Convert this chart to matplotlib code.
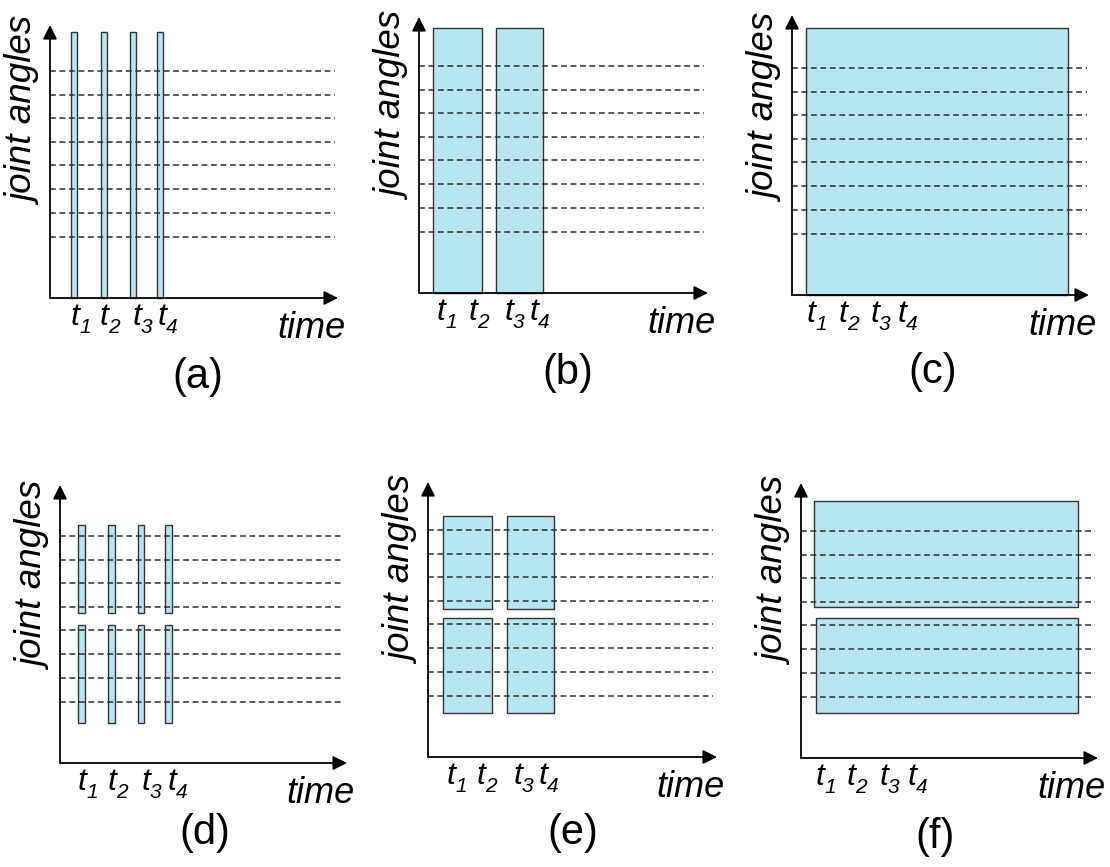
import matplotlib
matplotlib.use('Agg')
import matplotlib.pyplot as plt

plt.rcParams['font.family'] = ['Liberation Sans', 'DejaVu Sans']

# 关节角度的虚线层级（相对时间轴的高度）
joint_levels = [61, 85, 109, 133, 156, 180, 203, 227]

panel_names = ['(a)', '(b)', '(c)', '(d)', '(e)', '(f)']
# 每个小图原点在页面中的位置
panel_origin = [(50, 298), (419, 293), (792, 295), (60, 763), (428, 757), (801, 758)]
axis_len_x = [288, 289, 297, 287, 289, 297]
axis_len_y = [273, 276, 280, 278, 275, 275]
dash_end = [285, 285, 295, 283, 285, 294]

# 窗口: (t_start, t_end, joint_low, joint_high)
windows = [
    [(21, 27, 0, 266), (51, 57, 0, 266), (80, 86, 0, 266), (107, 113, 0, 266)],
    [(14, 63, 0, 265), (77, 124, 0, 265)],
    [(14, 276, 0, 267)],
    [(18, 25, 150, 238), (48, 55, 150, 238), (78, 84, 150, 238), (105, 112, 150, 238),
     (18, 25, 40, 138), (48, 55, 40, 138), (78, 84, 40, 138), (105, 112, 40, 138)],
    [(15, 64, 148, 241), (79, 126, 148, 241), (15, 64, 44, 139), (79, 126, 44, 139)],
    [(13, 277, 151, 257), (15, 277, 45, 140)],
]

t_subs = ['1', '2', '3', '4']
t_label_x = [
    [21, 50, 83, 108],
    [18, 50, 86, 111],
    [15, 47, 79, 106],
    [18, 48, 82, 108],
    [19, 49, 86, 111],
    [15, 46, 79, 107],
]
caption_pos = [(148, -79), (149, -80), (141, -77), (145, -70), (145, -76), (134, -79)]

W, H = 1110, 867
fig = plt.figure(figsize=(W / 100, H / 100), dpi=100)

for i in range(6):
    ox, oy = panel_origin[i]
    x0, x1, y0, y1 = -45, 315, -95, 285
    ax = fig.add_axes([(ox + x0) / W, (H - (oy - y0)) / H, (x1 - x0) / W, (y1 - y0) / H])
    ax.set_xlim(x0, x1)
    ax.set_ylim(y0, y1)
    ax.axis('off')

    # 窗口矩形
    for (ta, tb, ja, jb) in windows[i]:
        ax.bar(ta, jb - ja, width=tb - ta, bottom=ja, align='edge',
               color='#b8e6f0', edgecolor='#333333', linewidth=1.0, zorder=1)

    # 虚线
    for lv in joint_levels:
        ax.plot([0, dash_end[i]], [lv, lv], color='#2e2e2e', lw=1.1,
                dashes=(3.8, 2.4), zorder=2)

    # 坐标轴箭头
    arrow = dict(arrowstyle='-|>,head_length=0.6,head_width=0.3', lw=1.3,
                 color='black', shrinkA=0, shrinkB=0, mutation_scale=14)
    ax.annotate('', xy=(axis_len_x[i], 0), xytext=(0, 0), arrowprops=arrow, zorder=3)
    ax.annotate('', xy=(0, axis_len_y[i]), xytext=(0, 0), arrowprops=arrow, zorder=3)

    # t1..t4 标签
    for sub, lx in zip(t_subs, t_label_x[i]):
        ax.text(lx, -27, 't', fontsize=23, style='italic', ha='left', va='baseline')
        ax.text(lx + 8, -35, sub, fontsize=15, style='italic', ha='left', va='baseline')

    ax.text(axis_len_x[i] + 8, -13, 'time', fontsize=26, style='italic',
            ha='right', va='top')
    ax.text(-24, 186, 'joint angles', fontsize=26.5, style='italic',
            rotation=90, ha='center', va='center')
    ax.text(caption_pos[i][0], caption_pos[i][1], panel_names[i], fontsize=30,
            ha='center', va='center')

plt.savefig('out.png', dpi=100)
